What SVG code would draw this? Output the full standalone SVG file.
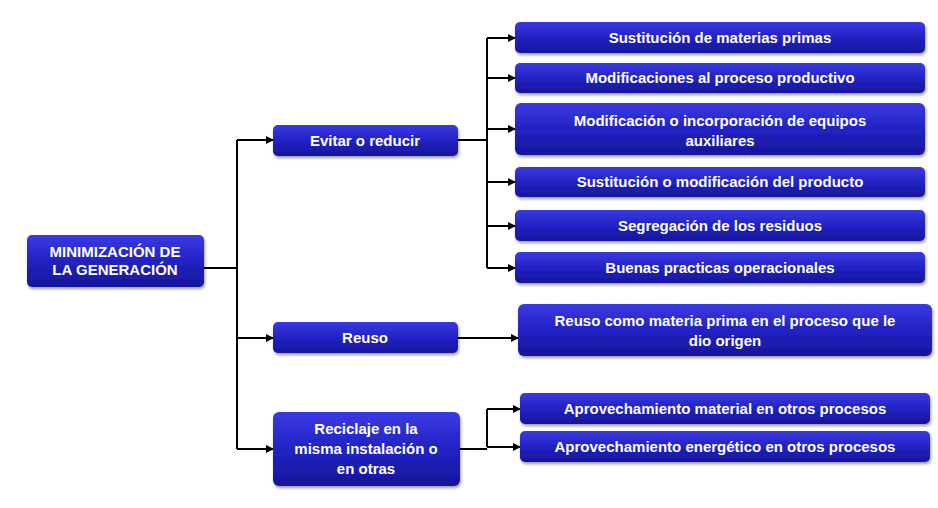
<svg xmlns="http://www.w3.org/2000/svg" width="938" height="508" viewBox="0 0 938 508">
<defs>
<linearGradient id="g" x1="0" y1="0" x2="0" y2="1"><stop offset="0" stop-color="#3a3ae0"/><stop offset="0.5" stop-color="#2222c4"/><stop offset="1" stop-color="#16169a"/></linearGradient>
<filter id="s" x="-5%" y="-20%" width="110%" height="150%"><feDropShadow dx="1" dy="2" stdDeviation="1.5" flood-color="#000" flood-opacity="0.4"/></filter>
<marker id="a" markerWidth="8" markerHeight="8" refX="7" refY="4" orient="auto" markerUnits="userSpaceOnUse"><path d="M0,0 L8,4 L0,8 z" fill="#000"/></marker>
</defs>
<style>
rect{fill:url(#g);filter:url(#s)}
text{font-family:"Liberation Sans",Arial,sans-serif;font-weight:bold;font-size:15px;fill:#fff;text-anchor:middle}
.c path{fill:none;stroke:#000;stroke-width:2}
.c .ar{marker-end:url(#a)}
</style>
<rect width="938" height="508" style="fill:#fff;filter:none"/>
<g class="c">
<path d="M204,268 H237 M237,140 V449"/>
<path class="ar" d="M237,140 H273"/><path class="ar" d="M237,338 H273"/><path class="ar" d="M237,449 H273"/>
<path d="M458,140 H487 M487,38 V268"/>
<path class="ar" d="M487,38 H515"/><path class="ar" d="M487,78 H515"/><path class="ar" d="M487,129 H515"/><path class="ar" d="M487,182 H515"/><path class="ar" d="M487,226 H515"/><path class="ar" d="M487,268 H515"/>
<path class="ar" d="M458,338 H518"/>
<path d="M460,449 H487 M487,409 V447"/>
<path class="ar" d="M487,409 H520"/><path class="ar" d="M487,447 H520"/>
</g>
<g id="root"><rect x="27" y="235" width="177" height="52" rx="5"/><text x="115" y="257">MINIMIZACIÓN  DE</text><text x="115" y="275">LA GENERACIÓN</text></g>
<g id="evitar"><rect x="273" y="125" width="185" height="31" rx="5"/><text x="365" y="146">Evitar o reducir</text></g>
<g id="reuso"><rect x="273" y="322" width="185" height="31" rx="5"/><text x="365" y="343">Reuso</text></g>
<g id="reciclaje"><rect x="273" y="412" width="187" height="74" rx="6"/><text x="366" y="434">Reciclaje en la</text><text x="366" y="454">misma instalación o</text><text x="366" y="474">en otras</text></g>
<g id="n1"><rect x="515" y="22" width="410" height="31" rx="5"/><text x="720" y="43">Sustitución de materias primas</text></g>
<g id="n2"><rect x="515" y="63" width="410" height="30" rx="5"/><text x="720" y="83">Modificaciones al proceso productivo</text></g>
<g id="n3"><rect x="515" y="103" width="410" height="52" rx="6"/><text x="720" y="126">Modificación o incorporación de equipos</text><text x="720" y="146">auxiliares</text></g>
<g id="n4"><rect x="515" y="167" width="410" height="30" rx="5"/><text x="720" y="187">Sustitución o modificación del producto</text></g>
<g id="n5"><rect x="515" y="210" width="410" height="31" rx="5"/><text x="720" y="231">Segregación de los residuos</text></g>
<g id="n6"><rect x="515" y="252" width="410" height="31" rx="5"/><text x="720" y="273">Buenas practicas operacionales</text></g>
<g id="n7"><rect x="518" y="304" width="414" height="52" rx="6"/><text x="725" y="326">Reuso como materia prima en el proceso que le</text><text x="725" y="346">dio origen</text></g>
<g id="n8"><rect x="520" y="393" width="410" height="31" rx="5"/><text x="725" y="414">Aprovechamiento material  en otros procesos</text></g>
<g id="n9"><rect x="520" y="431" width="410" height="31" rx="5"/><text x="725" y="452">Aprovechamiento energético en otros procesos</text></g>
</svg>
